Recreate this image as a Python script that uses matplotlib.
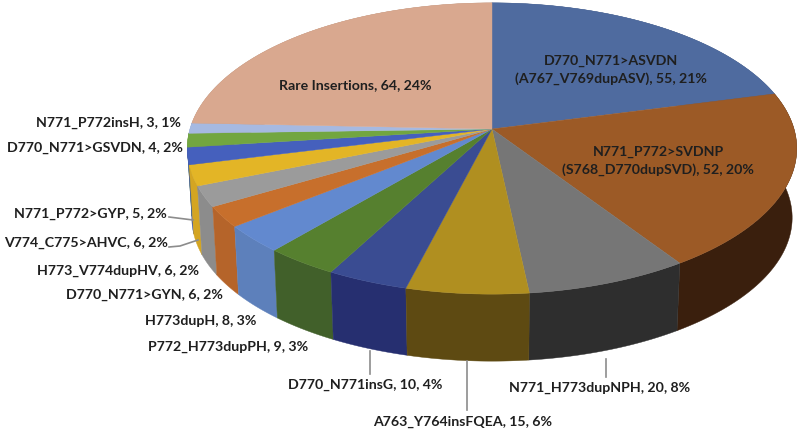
import numpy as np
import matplotlib
matplotlib.use("Agg")
import matplotlib.pyplot as plt
from matplotlib.patches import Polygon

names = ["D770_N771>ASVDN\n(A767_V769dupASV)", "N771_P772>SVDNP\n(S768_D770dupSVD)", "N771_H773dupNPH",
         "A763_Y764insFQEA", "D770_N771insG", "P772_H773dupPH", "H773dupH", "D770_N771>GYN",
         "H773_V774dupHV", "V774_C775>AHVC", "N771_P772>GYP", "D770_N771>GSVDN", "N771_P772insH",
         "Rare Insertions"]
counts = [55, 52, 20, 15, 10, 9, 8, 6, 6, 6, 5, 4, 3, 64]
top_colors = ["#4f6b9f", "#9c5a26", "#767676", "#b08f20", "#3a4c92", "#56802f", "#6289cf", "#c76f2c",
              "#9b9b9b", "#e3b526", "#4560bd", "#72a640", "#a6b9e1", "#d9a88f"]
side_colors = ["#3d5580", "#3a1f0d", "#2e2e2e", "#5e4a12", "#262f70", "#41602a", "#5d80bb", "#b5642a",
               "#8c8c8c", "#d4a522", "#3d55a5", "#5f8c35", "#8fa5cc", "#b58c75"]

# label centres, same order as names
label_pos = [(611, 70), (658, 161), (600, 388), (463, 422), (365, 385), (228, 347), (201, 321), (144, 295),
             (118, 271), (86, 243), (90, 214), (95, 148), (108, 123), (355, 85)]

# leader lines in picture pixels
leaders = [[(169, 218), (193, 221)], [(169, 248), (180, 247), (198, 241)], [(370, 352), (370, 375)],
           [(467, 362), (467, 411)], [(606, 360), (606, 378)]]

cx, cy = 492, 130
a, b, k = 302, 143, 0.134
depth = 69.5
shrink = 0.985  # lower rim is a little smaller, perspective


def project(theta):
    u = np.sin(theta)
    v = np.cos(theta)
    w = 1 + k * v
    return cx + a * u / w, cy - b * v / w


fig = plt.figure(figsize=(8, 4.35), dpi=100)
ax = fig.add_axes([0, 0, 1, 1])
ax.set_xlim(0, 800)
ax.set_ylim(435, 0)
ax.axis("off")

total = sum(counts)
edges = np.cumsum([0] + counts) / total * 2 * np.pi

# sides first, far ones to near ones, top faces hide what is behind
order = sorted(range(len(counts)), key=lambda i: np.cos((edges[i] + edges[i + 1]) / 2), reverse=True)
for i in order:
    t = np.linspace(edges[i], edges[i + 1], 60)
    x, y = project(t)
    x2 = cx + (x - cx) * shrink
    y2 = cy + depth + (y - cy) * shrink
    pts = np.r_[np.c_[x, y], np.c_[x2[::-1], y2[::-1]]]
    ax.add_patch(Polygon(pts, closed=True, fc=side_colors[i], ec=side_colors[i], lw=0.3))

for i in range(len(counts)):
    t = np.linspace(edges[i], edges[i + 1], 60)
    x, y = project(t)
    pts = np.r_[[[cx, cy]], np.c_[x, y]]
    ax.add_patch(Polygon(pts, closed=True, fc=top_colors[i], ec=top_colors[i], lw=0.3))

for line in leaders:
    ax.plot([p[0] for p in line], [p[1] for p in line], color="#8c8c8c", lw=1.2)

for name, n, pos in zip(names, counts, label_pos):
    txt = "%s, %d, %d%%" % (name, n, round(n / total * 100))
    ax.text(pos[0], pos[1], txt, ha="center", va="center", family="Lato", weight="bold",
            fontsize=10.2, color="#1f1f1f", linespacing=1.45)

fig.savefig("out.png", dpi=100)
